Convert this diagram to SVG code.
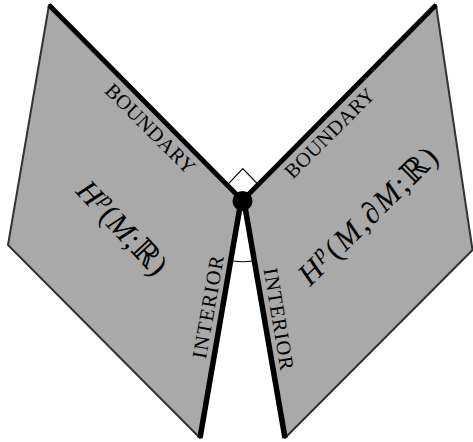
<svg xmlns="http://www.w3.org/2000/svg" width="473" height="442" viewBox="0 0 473 442">
<style>
.face{fill:#a9a9a9;stroke:#333;stroke-width:2;stroke-linejoin:round}
.bd{stroke:#000;stroke-width:4.8;fill:none;stroke-linecap:butt}
.in{stroke:#000;stroke-width:5.5;fill:none;stroke-linecap:butt}
.thin{stroke:#000;stroke-width:1.2;fill:none}
.lbl{font-family:"Liberation Serif","DejaVu Serif",serif;font-size:20.5px;fill:#000}
.math{font-family:"Liberation Serif","DejaVu Serif",serif;font-size:31px;fill:#000}
.it{font-style:italic}
</style>
<rect width="473" height="442" fill="#fff"/>
<g id="left-face">
<polygon class="face" points="49,5 242.5,200.5 200,438 8,245"/>
</g>
<g id="right-face">
<polygon class="face" points="436,5 242.5,200.5 285,438 472.5,250"/>
</g>
<g id="connectors">
<line class="bd" x1="49" y1="5" x2="242.5" y2="200.5"/>
<line class="bd" x1="436" y1="5" x2="242.5" y2="200.5"/>
<line class="in" x1="241" y1="201" x2="200" y2="438"/>
<line class="in" x1="244" y1="201" x2="285" y2="438"/>
<path class="thin" d="M228.3,183.8 L242.8,168.5 L257.5,183.8"/>
<path class="thin" d="M233.3,261 A61,61 0 0 0 252.5,261"/>
</g>
<g id="vertex">
<circle cx="242.5" cy="201" r="10" fill="#000"/>
</g>
<g id="labels">
<text class="lbl" transform="translate(150.5,128.5) rotate(45)" x="0" y="7" text-anchor="middle" textLength="118" lengthAdjust="spacing">BOUNDARY</text>
<text class="lbl" transform="translate(329.5,133) rotate(-45)" x="0" y="7" text-anchor="middle" textLength="118" lengthAdjust="spacing">BOUNDARY</text>
<text class="lbl" transform="translate(208,307) rotate(-80)" x="0" y="7" text-anchor="middle" textLength="104" lengthAdjust="spacing">INTERIOR</text>
<text class="lbl" transform="translate(279,319) rotate(80.5)" x="0" y="7" text-anchor="middle" textLength="103" lengthAdjust="spacing">INTERIOR</text>
<text class="math" transform="translate(122,228) rotate(47)" x="0" y="10" text-anchor="middle" textLength="117" lengthAdjust="spacing"><tspan class="it">H</tspan><tspan class="it" font-size="21" dy="-12">p</tspan><tspan dy="12">(</tspan><tspan class="it">M</tspan><tspan>;</tspan><tspan>ℝ</tspan><tspan>)</tspan></text>
<text class="math" transform="translate(368,216) rotate(-44.5)" x="0" y="10" text-anchor="middle" textLength="182" lengthAdjust="spacing"><tspan class="it">H</tspan><tspan class="it" font-size="21" dy="-12">p</tspan><tspan dy="12">(</tspan><tspan class="it">M</tspan><tspan>,</tspan><tspan class="it">∂M</tspan><tspan>;</tspan><tspan>ℝ</tspan><tspan>)</tspan></text>
</g>
</svg>
